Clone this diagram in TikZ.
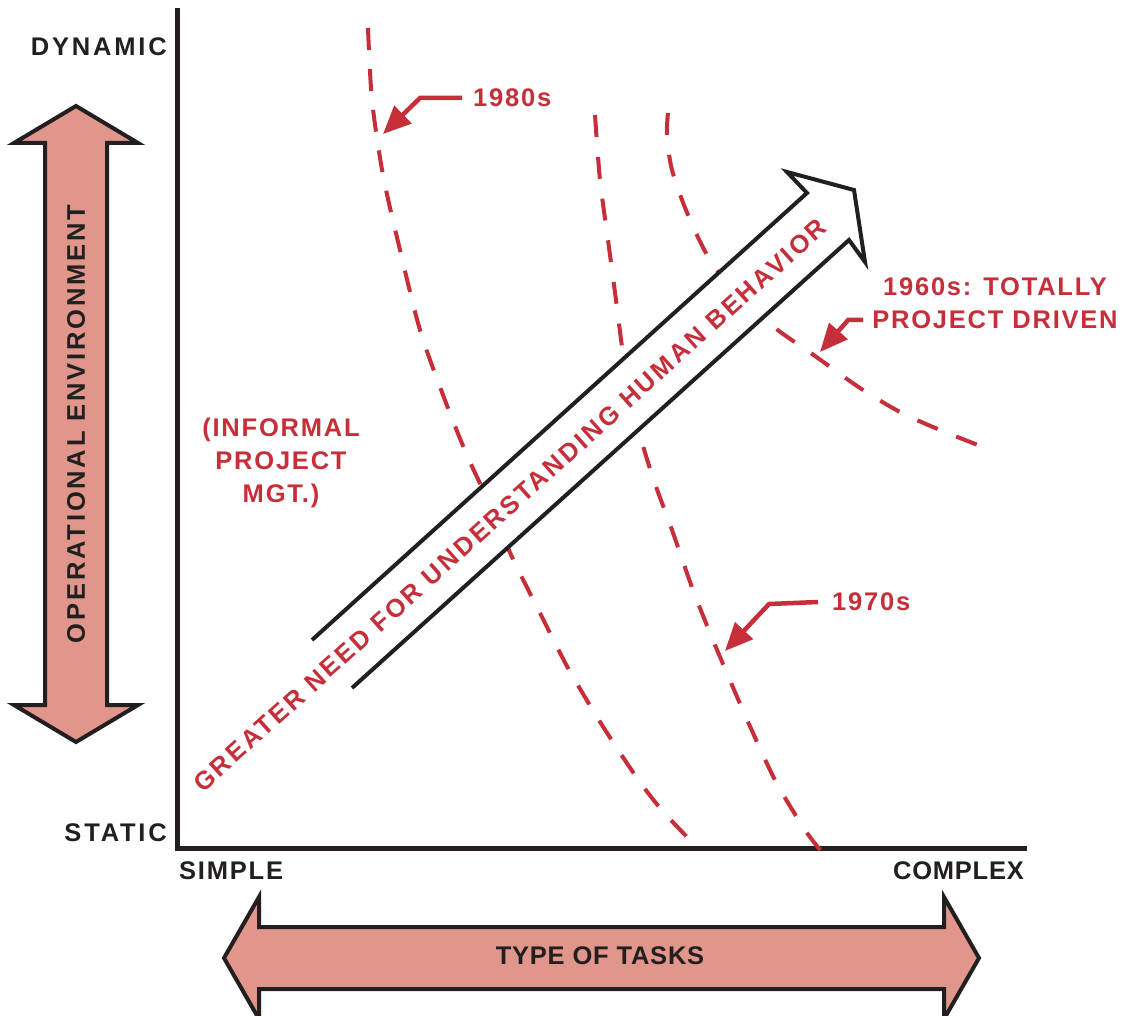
\documentclass[tikz,border=0pt]{standalone}
\usepackage{fontspec}
\setmainfont{Liberation Sans}
\newfontfamily\lblfont{Liberation Sans}[LetterSpace=7]
\newfontfamily\widefont{Liberation Sans}[LetterSpace=11]
\newfontfamily\tightfont{Liberation Sans}[LetterSpace=3]
\usetikzlibrary{arrows.meta}
\definecolor{chartred}{RGB}{198,46,58}
\definecolor{salmon}{RGB}{224,150,138}
\definecolor{ink}{RGB}{35,31,32}
\newcommand{\lblsize}{\fontsize{25.5}{33}\selectfont}

\begin{document}
\begin{tikzpicture}[x=1pt,y=-1pt]

\tikzstyle{axislabel} = [font=\lblfont\bfseries\lblsize, text=ink, inner sep=0pt]
\tikzstyle{eralabel} = [font=\lblfont\bfseries\lblsize, text=chartred, inner sep=0pt, align=center]
\tikzstyle{eraline} = [chartred, line width=4pt, dash pattern=on 22pt off 20pt]
\tikzstyle{leader} = [chartred, line width=4.5pt, line join=miter, -{Triangle[length=28pt,width=24pt]}]
\tikzstyle{fatarrow} = [draw=ink, fill=salmon, line width=4pt, line join=miter]
\tikzstyle{axis} = [ink, line width=5pt, line join=miter]

\useasboundingbox (0,0) rectangle (1122,1016);

\draw[axis] (177,8) -- (177,848) -- (1027,848);

\draw[eraline, dash pattern=on 22pt off 19pt] plot[smooth] coordinates {(368,28) (372,100) (383,175) (400,250) (420,330) (443,395) (466,453) (490,505) (512,557) (540,613) (568,668) (602,725) (635,775) (660,808) (688,838)};
\draw[eraline] plot[smooth] coordinates {(595,115) (600,180) (608,240) (616,300) (624,360) (636,420) (652,475) (672,530) (693,590) (715,645) (745,715) (775,780) (805,830) (822,852)};
\draw[eraline] plot[smooth] coordinates {(668,113) (667,135) (672,170) (688,215) (710,260) (740,298) (775,328) (815,356) (860,388) (900,412) (940,430) (978,445)};

\fill[white] (312,640) -- (807,193) -- (787,172) -- (854,190) -- (865,262) -- (849,240) -- (352,688) -- cycle;
\draw[ink, line width=4pt, line join=miter] (312,640) -- (807,193) -- (787,172) -- (854,190) -- (865,262) -- (849,240) -- (352,688);
\node (need) [font=\widefont\bfseries\lblsize, text=chartred, rotate=42, inner sep=0pt] at (510,505) {GREATER NEED FOR UNDERSTANDING HUMAN BEHAVIOR};

\draw[fatarrow] (76,106) -- (138,143) -- (107,143) -- (107,705) -- (138,705) -- (76,742) -- (14,705) -- (45,705) -- (45,143) -- (14,143) -- cycle;
\draw[fatarrow] (224,958) -- (259,897) -- (259,927) -- (944,927) -- (944,897) -- (979,958) -- (944,1019) -- (944,989) -- (259,989) -- (259,1019) -- cycle;

\node (env) [axislabel, font=\widefont\bfseries\lblsize, rotate=90] at (76,424) {OPERATIONAL ENVIRONMENT};
\node (tasks) [axislabel, font=\tightfont\bfseries\lblsize] at (600,956) {TYPE OF TASKS};
\node (dyn) [axislabel, font=\widefont\bfseries\lblsize, anchor=east] at (167,47) {DYNAMIC};
\node (stat) [axislabel, font=\widefont\bfseries\lblsize, anchor=east] at (167,833) {STATIC};
\node (simp) [axislabel, anchor=west] at (179,871) {SIMPLE};
\node (comp) [axislabel, font=\tightfont\bfseries\lblsize, anchor=east] at (1024,871) {COMPLEX};

\node (informal) [eralabel] at (281,463) {(INFORMAL\\PROJECT\\MGT.)};
\node (l80) [eralabel, anchor=west] at (473,98) {1980s};
\node (l70) [eralabel, anchor=west] at (832,602) {1970s};
\node (l60top) [eralabel] at (995,287) {1960s: TOTALLY};
\node (l60) [eralabel] at (995,320) {PROJECT DRIVEN};

\coordinate (t80) at (383,134);
\coordinate (t70) at (725,651);
\coordinate (t60) at (820,352);

\draw[leader] ([xshift=-11pt]l80.west) -- ++(-42,0) -- (t80);
\draw[leader] ([xshift=-14pt]l70.west) -- ++(-49,2) -- (t70);
\draw[leader] ([xshift=-9pt]l60.west) -- ++(-15,0) -- (t60);

\end{tikzpicture}
\end{document}
